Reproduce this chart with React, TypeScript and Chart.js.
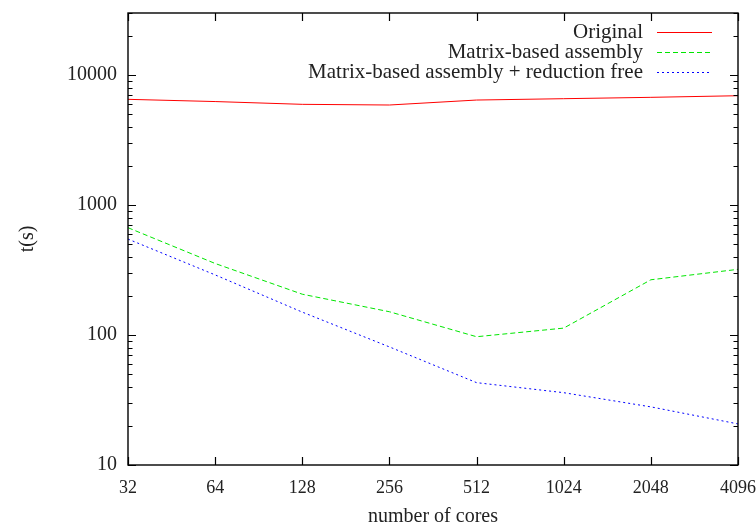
import React, { useEffect, useRef } from "react";
import { Chart, registerables } from "chart.js";

Chart.register(...registerables);

const cores = ["32", "64", "128", "256", "512", "1024", "2048", "4096"];
const original = [6500, 6250, 5950, 5880, 6420, 6575, 6735, 6930];
const matrixBased = [669, 355, 206, 151, 97, 113, 266, 320];
const reductionFree = [547, 290, 150, 81, 43, 36, 28, 20.7];
const yMajorTicks = [10, 100, 1000, 10000];
const seriesNames = ["Original", "Matrix-based assembly", "Matrix-based assembly + reduction free"];
const seriesColors = ["#ff0000", "#00e600", "#0000ff"];
const seriesDashes = [[], [5, 3], [2, 3]];

const FONT = "'Liberation Serif', 'Times New Roman', serif";

const framePlugin = {
  id: "frame",
  afterDraw(chart: any) {
    const { ctx, chartArea: a, scales } = chart;
    const xs = scales.x;
    const ys = scales.y;
    ctx.save();
    ctx.strokeStyle = "#000";
    ctx.lineWidth = 1.4;
    ctx.setLineDash([]);
    ctx.strokeRect(a.left, a.top, a.right - a.left, a.bottom - a.top);
    ctx.lineWidth = 1.2;
    for (let i = 0; i < cores.length; i++) {
      const px = Math.round(xs.getPixelForValue(i)) + 0.5;
      ctx.beginPath();
      ctx.moveTo(px, a.bottom);
      ctx.lineTo(px, a.bottom - 8);
      ctx.moveTo(px, a.top);
      ctx.lineTo(px, a.top + 8);
      ctx.stroke();
    }
    for (let d = 10; d <= 10000; d *= 10) {
      for (let m = 1; m <= 9; m++) {
        const v = d * m;
        if (v > ys.max) continue;
        const py = Math.round(ys.getPixelForValue(v)) + 0.5;
        const len = m === 1 ? 8 : 4.5;
        ctx.beginPath();
        ctx.moveTo(a.left, py);
        ctx.lineTo(a.left + len, py);
        ctx.moveTo(a.right, py);
        ctx.lineTo(a.right - len, py);
        ctx.stroke();
      }
    }
    ctx.font = "21px " + FONT;
    ctx.textAlign = "right";
    ctx.textBaseline = "middle";
    ctx.fillStyle = "#222";
    const textRight = a.right - 95;
    chart.data.datasets.forEach((ds: any, i: number) => {
      const cy = a.top + 19.5 + i * 20;
      ctx.fillText(ds.label, textRight, cy);
      ctx.strokeStyle = seriesColors[i];
      ctx.lineWidth = 1.2;
      ctx.setLineDash(seriesDashes[i]);
      ctx.beginPath();
      ctx.moveTo(textRight + 14, cy);
      ctx.lineTo(textRight + 69, cy);
      ctx.stroke();
    });
    ctx.restore();
  },
};

export default function App() {
  const ref = useRef<HTMLCanvasElement>(null);
  useEffect(() => {
    document.body.style.margin = "0";
    const canvas = ref.current!;
    const chart = new Chart(canvas, {
      type: "line",
      data: {
        labels: cores,
        datasets: [original, matrixBased, reductionFree].map((d, i) => ({
          label: seriesNames[i],
          data: d,
          borderColor: seriesColors[i],
          backgroundColor: seriesColors[i],
          borderWidth: 1,
          borderDash: seriesDashes[i],
          pointRadius: 0,
          tension: 0,
          fill: false,
        })),
      },
      options: {
        animation: false,
        responsive: false,
        maintainAspectRatio: false,
        layout: { padding: { left: 0, right: 18, top: 13, bottom: 0 } },
        plugins: { legend: { display: false }, tooltip: { enabled: false } },
        scales: {
          x: {
            type: "category",
            offset: false,
            grid: { display: false },
            border: { display: false },
            ticks: { color: "#222", font: { family: FONT, size: 18 }, padding: 4, maxRotation: 0, autoSkip: false },
            title: {
              display: true,
              text: "number of cores",
              color: "#222",
              font: { family: FONT, size: 20, lineHeight: 0.7 },
              padding: { top: 0, bottom: 0 },
            },
            afterFit: (s: any) => {
              s.height = 59;
              s.paddingLeft = 0;
              s.paddingRight = 0;
            },
          },
          y: {
            type: "logarithmic",
            min: 10,
            max: 30000,
            grid: { display: false },
            border: { display: false },
            afterBuildTicks: (s: any) => {
              s.ticks = yMajorTicks.map((v) => ({ value: v, major: true }));
            },
            ticks: {
              color: "#222",
              font: { family: FONT, size: 20 },
              padding: 3,
              callback: (v: any) => String(v),
            },
            title: {
              display: true,
              text: "t(s)",
              color: "#222",
              font: { family: FONT, size: 20, lineHeight: 1 },
              padding: { top: 18, bottom: 0 },
            },
            afterFit: (s: any) => {
              s.width = 128;
              s.paddingTop = 0;
              s.paddingBottom = 0;
            },
          },
        },
      },
      plugins: [framePlugin],
    });
    return () => chart.destroy();
  }, []);
  return <canvas ref={ref} width={756} height={524} style={{ display: "block" }} />;
}
